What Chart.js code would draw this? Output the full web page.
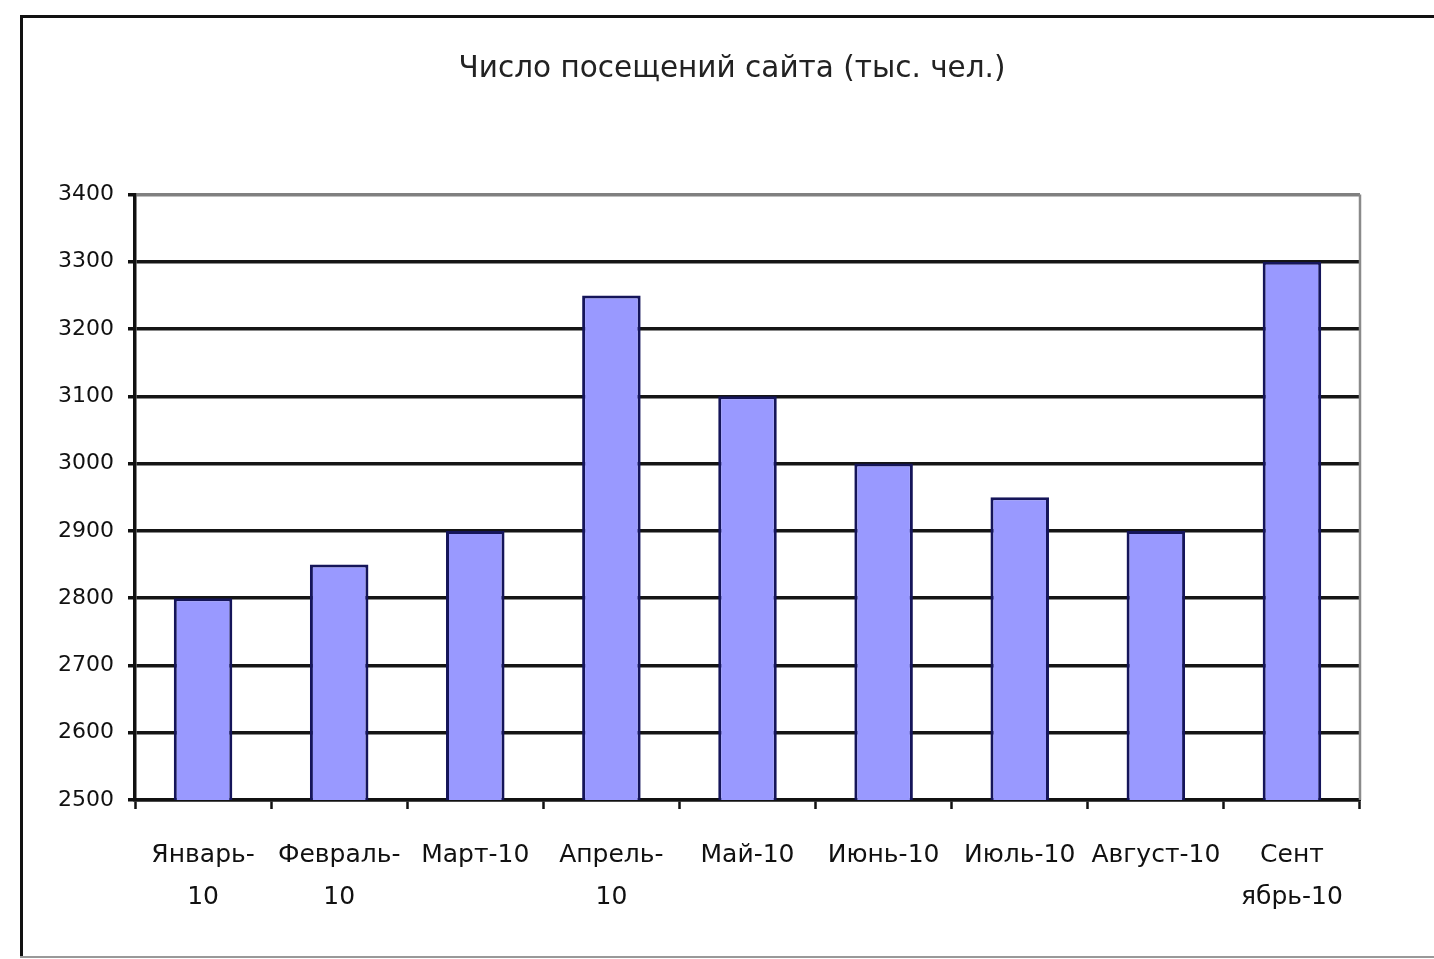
<!DOCTYPE html>
<html>
<head>
<meta charset="utf-8">
<script src="https://cdn.jsdelivr.net/npm/chart.js@4"></script>
<style>
  html, body { margin: 0; padding: 0; background: #fff; }
  #wrap { position: absolute; left: 0; top: 0; width: 1434px; height: 959px; }
</style>
</head>
<body>
<div id="wrap"><canvas id="c" width="1434" height="959"></canvas></div>
<script>
const titleText = 'Число посещений сайта (тыс. чел.)';
const categories = [
  ['Январь-', '10'],
  ['Февраль-', '10'],
  'Март-10',
  ['Апрель-', '10'],
  'Май-10',
  'Июнь-10',
  'Июль-10',
  'Август-10',
  ['Сент', 'ябрь-10']
];
const visits = [2800, 2850, 2900, 3250, 3100, 3000, 2950, 2900, 3300];
const yMin = 2500;
const yMax = 3400;
const yStep = 100;

const framePlugin = {
  id: 'frame',
  beforeDraw(chart) {
    const ctx = chart.ctx;
    ctx.save();
    ctx.fillStyle = '#ffffff';
    ctx.fillRect(0, 0, chart.width, chart.height);
    ctx.strokeStyle = '#111';
    ctx.lineWidth = 3;
    ctx.beginPath();
    ctx.moveTo(21.5, 958);
    ctx.lineTo(21.5, 16.5);
    ctx.lineTo(1434, 16.5);
    ctx.stroke();
    ctx.strokeStyle = '#999';
    ctx.lineWidth = 2;
    ctx.beginPath();
    ctx.moveTo(20, 957);
    ctx.lineTo(1434, 957);
    ctx.stroke();
    ctx.restore();
  },
  afterDraw(chart) {
    const a = chart.chartArea;
    const ctx = chart.ctx;
    ctx.save();
    ctx.strokeStyle = '#8a8a8a';
    ctx.lineWidth = 2.5;
    ctx.beginPath();
    ctx.moveTo(a.right, a.top);
    ctx.lineTo(a.right, a.bottom);
    ctx.stroke();
    ctx.restore();
  }
};

new Chart(document.getElementById('c'), {
  type: 'bar',
  data: {
    labels: categories,
    datasets: [{
      data: visits,
      backgroundColor: '#9999ff',
      borderColor: '#15155a',
      borderWidth: 3,
      borderSkipped: 'bottom',
      barPercentage: 0.43,
      categoryPercentage: 1.0
    }]
  },
  options: {
    responsive: false,
    animation: false,
    layout: { padding: { left: 30, right: 0, top: 0, bottom: 0 } },
    plugins: {
      legend: { display: false },
      tooltip: { enabled: false },
      title: {
        display: true,
        text: titleText,
        color: '#222',
        font: { family: 'DejaVu Sans', size: 29.5, weight: 'normal', lineHeight: 1.0 },
        padding: { top: 55, bottom: 110 }
      }
    },
    scales: {
      x: {
        grid: {
          offset: true,
          drawOnChartArea: false,
          drawTicks: true,
          tickLength: 9,
          tickWidth: 2.5,
          tickColor: '#111'
        },
        border: { display: true, color: '#111', width: 3.5 },
        ticks: {
          color: '#111',
          font: { family: 'DejaVu Sans', size: 25, lineHeight: 1.68 },
          padding: 25,
          maxRotation: 0,
          autoSkip: false
        },
        afterFit(scale) { scale.height = 159; }
      },
      y: {
        min: yMin,
        max: yMax,
        grid: {
          color: (ctx) => (ctx.tick && ctx.tick.value === yMax) ? '#808080' : '#151515',
          lineWidth: 3.5,
          drawTicks: true,
          tickLength: 7,
          tickColor: '#111'
        },
        border: { display: true, color: '#111', width: 3.5 },
        ticks: {
          stepSize: yStep,
          color: '#111',
          font: { family: 'DejaVu Sans', size: 22 },
          padding: 14,
          callback: (v) => String(v)
        },
        afterFit(scale) { scale.width = 105; }
      },
      yRight: {
        type: 'linear',
        position: 'right',
        display: true,
        grid: { display: false, drawTicks: false },
        border: { display: false },
        ticks: { display: false },
        afterFit(scale) { scale.width = 74; }
      }
    }
  },
  plugins: [framePlugin]
});
</script>
</body>
</html>
